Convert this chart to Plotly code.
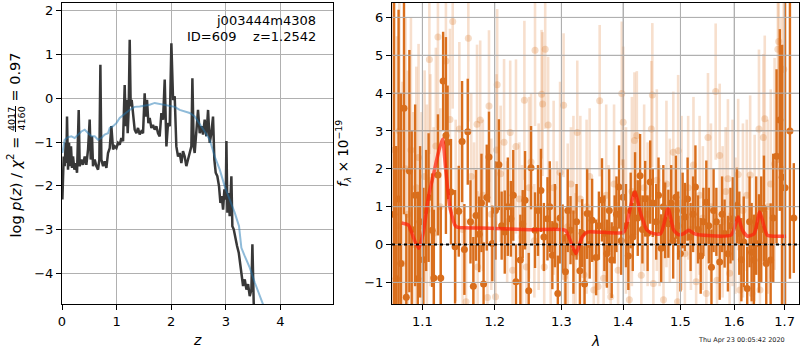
import plotly.graph_objects as go

# ---------------- left panel data: log p(z) ----------------
z_pz = [0.007, 0.019, 0.031, 0.049, 0.068, 0.080, 0.092, 0.110, 0.129, 0.147, 0.165, 0.184, 0.202, 0.227,
        0.251, 0.275, 0.306, 0.324, 0.355, 0.385, 0.416, 0.446, 0.477, 0.507, 0.526, 0.550, 0.568, 0.599,
        0.629, 0.660, 0.684, 0.703, 0.721, 0.752, 0.782, 0.813, 0.843, 0.874, 0.904, 0.935, 0.965, 0.996,
        1.026, 1.057, 1.087, 1.118, 1.136, 1.148, 1.167, 1.185, 1.203, 1.221, 1.240, 1.258, 1.276, 1.301,
        1.331, 1.362, 1.392, 1.423, 1.453, 1.484, 1.514, 1.533, 1.557, 1.582, 1.606, 1.637, 1.667, 1.698,
        1.728, 1.759, 1.789, 1.820, 1.851, 1.881, 1.912, 1.942, 1.973, 2.003, 2.034, 2.064, 2.094, 2.125,
        2.155, 2.186, 2.216, 2.247, 2.277, 2.308, 2.339, 2.369, 2.388, 2.412, 2.430, 2.461, 2.491, 2.522,
        2.553, 2.583, 2.613, 2.644, 2.675, 2.705, 2.735, 2.766, 2.790, 2.815, 2.845, 2.876, 2.901, 2.925,
        2.950, 2.974, 2.999, 3.011, 3.029, 3.053, 3.071, 3.102, 3.120, 3.145, 3.175, 3.206, 3.237, 3.267,
        3.292, 3.316, 3.347, 3.377, 3.408, 3.438, 3.469, 3.487, 3.511, 3.536, 3.600]
logp = [-2.31, -1.70, -1.33, -1.55, -1.02, -1.48, -0.42, -1.63, -1.02, -1.55, -1.10, -1.59, -1.33, -1.63,
        -1.48, -1.70, -0.27, -1.55, -1.40, -1.52, -1.33, -1.52, -1.17, -0.49, -1.40, -0.87, -1.55, -1.40,
        -1.55, -1.63, -1.40, 0.76, -1.40, -1.55, -1.44, -1.59, -1.25, -1.14, -0.64, -1.17, -1.10, -1.14,
        -1.02, -1.06, -0.91, -0.98, -0.42, 0.30, -0.64, -0.04, -0.80, -0.27, 1.33, -0.19, -0.04, -0.42,
        -0.72, -0.80, -0.68, -0.83, -0.76, -0.80, 0.11, -0.42, -0.04, -0.57, -0.45, -0.68, -0.61, -0.72,
        -0.64, -0.80, -0.87, -0.34, -0.49, 0.42, -1.10, -0.57, -0.64, 1.25, -0.04, 0.04, -1.10, -1.33,
        -1.25, -1.48, -1.21, -1.33, -1.55, -1.40, -1.25, -1.10, 0.45, -1.10, -1.25, -0.80, -0.27, -0.80,
        -0.64, -0.83, -0.49, -0.87, -0.27, -1.02, -0.80, -0.42, -1.40, -1.70, -1.78, -2.01, -2.39, -2.23,
        -2.54, -2.08, -2.31, -0.98, -2.61, -2.16, -2.69, -1.78, -2.92, -2.99, -3.22, -3.37, -3.52, -3.83,
        -4.05, -4.28, -4.13, -4.36, -4.24, -4.51, -4.36, -3.33, -4.67, -4.97, -5.50]

z_prior = [0.007, 0.049, 0.110, 0.172, 0.233, 0.294, 0.355, 0.416, 0.477, 0.538, 0.599, 0.660, 0.721,
           0.782, 0.843, 0.874, 0.935, 0.996, 1.057, 1.118, 1.179, 1.240, 1.331, 1.423, 1.514, 1.606,
           1.698, 1.789, 1.881, 1.973, 2.064, 2.155, 2.247, 2.339, 2.430, 2.522, 2.613, 2.705, 2.797,
           2.889, 2.980, 3.071, 3.163, 3.242, 3.285, 3.347, 3.438, 3.530, 3.621, 3.682, 3.800]
logp_prior = [-1.25, -0.95, -0.89, -0.87, -0.91, -0.83, -0.76, -0.72, -0.80, -0.87, -0.87, -0.95, -0.91,
              -0.83, -0.80, -0.68, -0.64, -0.57, -0.45, -0.38, -0.33, -0.27, -0.20, -0.19, -0.17, -0.15,
              -0.11, -0.13, -0.15, -0.17, -0.20, -0.27, -0.30, -0.34, -0.42, -0.58, -0.76, -0.95, -1.33,
              -1.63, -2.01, -2.31, -2.61, -2.92, -3.41, -3.60, -3.86, -4.20, -4.51, -4.70, -5.20]

# ---------------- right panel data: spectrum ----------------
dark_lam = [1.063, 1.066, 1.069, 1.072, 1.076, 1.079, 1.083, 1.086, 1.0905, 1.094, 1.097, 1.1014, 1.105,
            1.1083, 1.113, 1.1153, 1.1208, 1.1246, 1.1278, 1.1316, 1.1339, 1.1385, 1.1441, 1.1492, 1.1538,
            1.157, 1.1617, 1.1655, 1.1695, 1.1733, 1.1778, 1.181, 1.184, 1.1885, 1.1917, 1.1965, 1.201,
            1.206, 1.210, 1.2145, 1.219, 1.2235, 1.227, 1.231, 1.2375, 1.241, 1.2445, 1.25, 1.2535, 1.2595,
            1.264, 1.2685, 1.273, 1.2785, 1.282, 1.286, 1.290, 1.2945, 1.298, 1.302, 1.3064, 1.310, 1.3144,
            1.319, 1.324, 1.3293, 1.333, 1.3368, 1.341, 1.345, 1.349, 1.3555, 1.360, 1.3651, 1.369, 1.3731,
            1.377, 1.3811, 1.386, 1.389, 1.3933, 1.397, 1.400, 1.405, 1.409, 1.413, 1.4165, 1.4204, 1.425,
            1.429, 1.433, 1.4378, 1.442, 1.4465, 1.451, 1.457, 1.461, 1.4657, 1.4695, 1.4727, 1.4784, 1.4835,
            1.487, 1.4918, 1.496, 1.500, 1.504, 1.5081, 1.513, 1.5184, 1.523, 1.5273, 1.532, 1.537, 1.542,
            1.5474, 1.552, 1.557, 1.561, 1.5662, 1.5725, 1.577, 1.5818, 1.5881, 1.593, 1.5975, 1.6054,
            1.610, 1.614, 1.6186, 1.6254, 1.630, 1.634, 1.6385, 1.643, 1.6485, 1.653, 1.6584, 1.663, 1.6718,
            1.677, 1.6837, 1.6903, 1.6951, 1.701, 1.711, 1.719]
dark_flux = [0.8, -0.9, 1.2, -0.5, 3.6, -1.39, 1.94, 0.4, 1.3, -0.9, 0.6, -0.4, 0.9,
             1.24, 0.38, -0.88, 1.84, -0.88, 4.32, 2.88, 2.7, 1.39, -0.06, 0.88, 2.72,
             -0.13, 2.98, 0.6, -1.1, 0.77, 0.27, 1.1, -1.04, 1.24, 2.31, 0.03, 0.9,
             2.11, 0.5, 0.33, 1.0, 0.68, 1.3, -0.98, -0.41, 0.54, 1.17, -1.22, 2.03, 0.38,
             0.9, 1.43, 0.2, 0.68, 1.0, -0.28, 0.5, -1.29, 0.7, 0.16, -0.72, 0.9, 0.38,
             -0.2, 0.6, -0.69, 0.3, -1.04, 0.82, 0.0, 0.64, -0.34, 0.5, 1.18, 0.3, -0.24,
             0.9, -0.41, 0.4, 0.8, 1.52, 0.1, 1.25, 0.5, -0.3, 0.9, 0.2, 1.34, 0.7,
             1.82, 0.4, 1.21, 0.3, 1.65, 1.1, 0.6, 1.3, -0.1, 1.0, 0.64, 0.55, 1.1,
             0.1, 1.25, 0.5, -0.24, 0.9, 0.73, 1.2, 0.2, 0.8, 1.52, 0.4, -0.3, 0.6,
             1.12, 0.5, -0.6, 0.9, 0.6, -0.46, 0.8, 0.29, -0.24, 0.5, 0.68, 1.03,
             0.3, -0.4, 0.07, -1.16, 0.6, -0.2, -0.41, 0.5, 0.03, 0.4, 0.95, -0.5, -0.41,
             0.7, 2.33, 3.29, 1.78, 1.5, 3.0, 0.7]
dark_err = [8.0, 3.5, 5.0, 4.5, 2.8, 2.2, 3.2, 2.6, 2.4, 2.3, 2.0, 1.9, 1.6,
            1.7, 1.5, 1.8, 1.6, 1.9, 1.3, 2.6, 1.5, 1.4, 1.5, 1.2, 1.6,
            1.2, 1.4, 1.1, 1.3, 1.2, 1.0, 1.3, 1.1, 1.4, 1.2, 1.0, 1.3,
            1.2, 0.9, 1.1, 1.3, 1.0, 1.2, 1.0, 1.2, 0.9, 1.3, 1.0, 1.1, 1.0,
            1.2, 1.1, 0.9, 1.1, 1.2, 0.9, 1.1, 1.0, 1.2, 0.9, 1.0, 1.1, 0.9,
            1.1, 1.0, 1.1, 0.9, 1.0, 1.2, 0.9, 1.1, 1.0, 0.9, 1.1, 1.0, 0.9,
            1.1, 1.0, 0.9, 1.0, 1.1, 0.9, 1.0, 1.1, 0.9, 1.0, 0.9, 1.1, 1.0,
            1.1, 0.9, 1.0, 1.0, 1.1, 0.9, 1.0, 1.0, 0.9, 1.1, 1.0, 0.9, 1.0,
            1.0, 1.1, 0.9, 1.0, 1.0, 0.9, 1.1, 0.9, 1.0, 1.1, 0.9, 1.0, 0.9,
            1.1, 1.0, 1.0, 1.1, 0.9, 1.0, 1.0, 0.9, 1.0, 1.0, 1.1, 1.0,
            1.1, 1.1, 1.2, 1.1, 1.2, 1.3, 1.2, 1.3, 1.3, 1.4, 1.4, 1.4, 1.5,
            1.7, 2.3, 2.4, 3.5, 6.0, 3.9, 1.45]

light_lam = [1.064, 1.067, 1.070, 1.074, 1.078, 1.081, 1.085, 1.088, 1.092, 1.095, 1.099, 1.103, 1.106,
             1.1093, 1.1107, 1.115, 1.118, 1.1208, 1.124, 1.1316, 1.1371, 1.1409, 1.145, 1.150, 1.1545,
             1.1593, 1.1625, 1.1665, 1.1705, 1.1747, 1.1756, 1.1792, 1.183, 1.1895, 1.1917, 1.195, 1.2011,
             1.2025, 1.2035, 1.2085, 1.2135, 1.218, 1.2225, 1.226, 1.231, 1.236, 1.240, 1.2435, 1.2465,
             1.2505, 1.2535, 1.2585, 1.2595, 1.265, 1.2695, 1.271, 1.2735, 1.275, 1.2795, 1.2835, 1.288,
             1.293, 1.298, 1.3035, 1.305, 1.310, 1.315, 1.319, 1.3224, 1.3251, 1.330, 1.3357, 1.340, 1.345,
             1.3517, 1.3587, 1.3613, 1.3677, 1.372, 1.376, 1.3795, 1.385, 1.3917, 1.3979, 1.4003, 1.405,
             1.4107, 1.415, 1.4194, 1.4234, 1.4311, 1.436, 1.442, 1.4485, 1.4502, 1.452, 1.458, 1.463,
             1.4698, 1.475, 1.481, 1.4872, 1.4948, 1.4959, 1.502, 1.5081, 1.514, 1.519, 1.5237, 1.5286,
             1.535, 1.541, 1.5474, 1.5505, 1.556, 1.5649, 1.5674, 1.5725, 1.578, 1.5838, 1.5881, 1.5913,
             1.597, 1.6025, 1.6078, 1.6112, 1.617, 1.6245, 1.6311, 1.6345, 1.640, 1.6485, 1.6505, 1.6572,
             1.660, 1.666, 1.672, 1.6797, 1.6863, 1.688, 1.6935, 1.6983]
light_flux = [2.5, 0.5, 3.0, -0.5, 2.0, 0.8, 2.5, 0.0, 1.5, 2.3, 0.5, 1.8, 0.9,
              4.89, 1.7, 0.3, 2.6, 5.48, 1.0, 4.85, 3.3, 5.89, 0.9, 3.05, 0.4,
              -1.51, 5.45, 1.8, 0.5, 3.18, -0.59, 3.29, 1.3, -1.4, 3.66, 0.8, -1.38,
              2.5, 4.22, 1.87, 2.7, 0.6, 2.96, -0.68, 2.59, 1.2, 0.2, 3.81, -0.59,
              1.5, 2.18, 0.1, 5.13, 1.0, 3.97, 3.71, -0.59, 5.16, 3.16, 0.0, 1.5,
              0.6, 1.9, 3.68, -0.85, 0.47, 1.6, 0.9, -0.24, 2.96, 1.2, -0.8, 1.0, 1.8,
              -1.2, -1.11, 3.8, -0.89, 1.3, 0.4, -1.38, 1.6, -0.68, 3.99, 3.23, 0.9,
              -1.46, 1.4, 2.75, 2.88, -0.81, 1.5, 0.8, 3.05, 3.95, -1.03, 1.7, 0.5,
              -1.46, 1.6, 0.9, 2.44, -1.51, 2.48, 1.1, -0.24, 1.5, 0.4, 2.1, -0.98,
              1.3, 0.7, -1.29, 2.83, 1.0, 4.04, -0.94, 2.35, 0.6, 1.4, 1.74, -0.76,
              1.1, 0.5, 1.85, -1.2, 0.9, 1.3, 1.84, -1.29, 0.7, 3.05, -1.2, 2.83,
              3.32, 1.0, 1.6, 2.13, 5.16, 5.36, 2.0, 4.63]
light_err = [5.5, 5.0, 4.5, 4.8, 4.0, 3.8, 3.5, 3.5, 3.2, 3.0, 3.0, 2.8, 2.8,
             2.5, 2.8, 2.8, 2.6, 2.4, 2.6, 2.5, 2.4, 2.3, 2.4, 2.3, 2.3,
             2.2, 2.2, 2.2, 2.2, 2.1, 2.0, 2.1, 2.0, 2.0, 2.0, 2.0, 2.0,
             2.0, 2.0, 1.8, 2.2, 1.6, 1.9, 1.7, 2.3, 1.5, 1.9, 2.1, 1.6,
             2.4, 1.8, 1.5, 2.0, 2.2, 1.7, 1.9, 1.6, 2.1, 1.8, 2.0, 2.3,
             1.6, 2.4, 1.9, 1.7, 2.2, 1.5, 2.5, 1.6, 1.9, 2.2, 1.7, 2.3, 1.8,
             1.6, 1.8, 2.0, 1.5, 2.4, 1.7, 1.6, 2.1, 1.8, 1.9, 2.0, 2.2,
             1.6, 2.5, 1.8, 1.7, 1.6, 2.2, 1.9, 1.8, 1.9, 1.7, 2.4, 1.6,
             1.7, 2.2, 1.9, 1.6, 1.6, 2.0, 2.3, 1.7, 1.9, 1.6, 1.8, 1.7,
             2.1, 1.9, 1.8, 1.7, 2.2, 1.8, 1.7, 1.9, 2.0, 1.7, 2.1, 1.6,
             2.2, 1.8, 2.0, 1.7, 2.3, 2.0, 2.1, 1.9, 2.2, 2.1, 1.9, 2.2,
             2.2, 2.3, 2.5, 2.8, 3.0, 3.2, 4.0, 4.5]

model_lam = [1.073, 1.082, 1.088, 1.095, 1.101, 1.108, 1.115, 1.121, 1.127, 1.131, 1.137, 1.144, 1.147,
             1.193, 1.252, 1.306, 1.314, 1.323, 1.333, 1.341, 1.401, 1.410, 1.420, 1.430, 1.441, 1.453,
             1.465, 1.478, 1.488, 1.497, 1.506, 1.515, 1.525, 1.537, 1.594, 1.603, 1.608, 1.616, 1.626,
             1.639, 1.650, 1.659, 1.665, 1.679, 1.703]
model_flux = [0.57, 0.51, 0.20, -0.10, 0.29, 1.25, 1.87, 2.40, 2.79, 2.04, 0.99, 0.51, 0.46,
              0.43, 0.39, 0.38, 0.11, -0.24, 0.20, 0.33, 0.33, 0.82, 1.39, 0.82, 0.38, 0.29,
              0.29, 0.95, 0.38, 0.26, 0.29, 0.38, 0.29, 0.25, 0.25, 0.55, 0.73, 0.38, 0.22,
              0.29, 0.86, 0.46, 0.25, 0.22, 0.22]

zticks = [0, 1, 2, 3, 4]
pzticks = [-4, -3, -2, -1, 0, 1, 2]
lam_ticks = [1.1, 1.2, 1.3, 1.4, 1.5, 1.6, 1.7]
flux_ticks = [-1, 0, 1, 2, 3, 4, 5, 6]

FONT = "DejaVu Sans"
W, H = 800, 350
def px(x):
    return x / W
def py(y):
    return 1 - y / H

ORANGE = "rgb(217,110,28)"
ORANGE_L = "rgba(217,110,28,0.22)"
ORANGE_LM = "rgba(217,110,28,0.25)"
GRID = "#b0b0b0"

fig = go.Figure()

# left panel
fig.add_trace(go.Scatter(x=z_pz, y=logp, mode="lines", line=dict(color="#383838", width=2.5),
                         xaxis="x", yaxis="y", hoverinfo="skip"))
fig.add_trace(go.Scatter(x=z_prior, y=logp_prior, mode="lines",
                         line=dict(color="rgba(31,119,180,0.5)", width=2),
                         xaxis="x", yaxis="y", hoverinfo="skip"))

# right panel
fig.add_trace(go.Scatter(x=light_lam, y=light_flux, mode="markers",
                         marker=dict(size=7, color=ORANGE_LM, line=dict(width=0)),
                         error_y=dict(type="data", array=light_err, color=ORANGE_L, thickness=2.6, width=0),
                         xaxis="x2", yaxis="y2", hoverinfo="skip"))
fig.add_trace(go.Scatter(x=dark_lam, y=dark_flux, mode="markers",
                         marker=dict(size=7, color=ORANGE, line=dict(width=0)),
                         error_y=dict(type="data", array=dark_err, color=ORANGE, thickness=2.4, width=0),
                         xaxis="x2", yaxis="y2", hoverinfo="skip"))
fig.add_trace(go.Scatter(x=model_lam, y=model_flux, mode="lines",
                         line=dict(color="rgba(255,30,10,0.7)", width=3.5, shape="spline", smoothing=0.6),
                         xaxis="x2", yaxis="y2", hoverinfo="skip"))

axis_common = dict(showline=True, mirror=True, linecolor="black", linewidth=1,
                   ticks="outside", ticklen=5, tickwidth=1, tickcolor="black",
                   showgrid=True, gridcolor=GRID, gridwidth=1, zeroline=False, automargin=False,
                   tickfont=dict(family=FONT, size=13, color="black"))

dom_y = [py(304), py(3)]
fig.update_layout(
    width=W, height=H, autosize=False,
    margin=dict(l=0, r=0, t=0, b=0, pad=0, autoexpand=False),
    paper_bgcolor="white", plot_bgcolor="white",
    showlegend=False,
    font=dict(family=FONT, size=13, color="black"),
    xaxis=dict(domain=[px(62), px(333)], range=[0, 4.963], tickvals=zticks, anchor="y", **axis_common),
    yaxis=dict(domain=dom_y, range=[-4.69, 2.166], tickvals=pzticks, anchor="x", **axis_common),
    xaxis2=dict(domain=[px(392), px(799)], type="log", range=[0.02555, 0.23798],
                tickvals=lam_ticks, ticktext=[f"{v:.1f}" for v in lam_ticks], anchor="y2", **axis_common),
    yaxis2=dict(domain=dom_y, range=[-1.57, 6.38], tickvals=flux_ticks, anchor="x2", **axis_common),
)

# spectrum-panel grid drawn over the error bars (as in the original)
for v in lam_ticks:
    fig.add_shape(type="line", xref="x2", yref="y2 domain", x0=v, x1=v, y0=0, y1=1,
                  line=dict(color=GRID, width=1), layer="above")
for v in flux_ticks:
    fig.add_shape(type="line", xref="x2 domain", yref="y2", x0=0, x1=1, y0=v, y1=v,
                  line=dict(color=GRID, width=1), layer="above")

# zero line in the spectrum panel
fig.add_shape(type="line", xref="x2 domain", yref="y2", x0=0, x1=1, y0=0, y1=0,
              line=dict(color="black", width=2, dash="3px,3px"), layer="above")

ann = []
# redshift labels
ann.append(dict(text="j003444m4308", x=px(318), y=py(20.5), xref="paper", yref="paper",
                xanchor="right", yanchor="middle", showarrow=False, font=dict(size=13)))
ann.append(dict(text="ID=609    z=1.2542", x=px(318), y=py(36.5), xref="paper", yref="paper",
                xanchor="right", yanchor="middle", showarrow=False, font=dict(size=13)))
# axis titles
ann.append(dict(text="<i>z</i>", x=px(197), y=py(340), xref="paper", yref="paper",
                xanchor="center", yanchor="middle", showarrow=False, font=dict(size=14)))
ann.append(dict(text="<i>λ</i>", x=px(595), y=py(341), xref="paper", yref="paper",
                xanchor="center", yanchor="middle", showarrow=False, font=dict(size=14)))
ann.append(dict(text="<i>f</i><sub><i>λ</i></sub> × 10<sup>−19</sup>", x=px(343), y=py(154),
                xref="paper", yref="paper", xanchor="center", yanchor="middle", textangle=-90,
                showarrow=False, font=dict(size=13.5)))
# left y title, built from pieces (fraction)
ann.append(dict(text="log <i>p</i>(<i>z</i>) / <i>χ</i><sup>2</sup> =", x=px(14), y=py(135),
                xref="paper", yref="paper", xanchor="center", yanchor="top", textangle=-90,
                showarrow=False, font=dict(size=14.5)))
ann.append(dict(text="4017", x=px(11), y=py(119), xref="paper", yref="paper",
                xanchor="center", yanchor="middle", textangle=-90, showarrow=False, font=dict(size=9.5)))
ann.append(dict(text="4160", x=px(20.5), y=py(119), xref="paper", yref="paper",
                xanchor="center", yanchor="middle", textangle=-90, showarrow=False, font=dict(size=9.5)))
ann.append(dict(text="= 0.97", x=px(14), y=py(104), xref="paper", yref="paper",
                xanchor="center", yanchor="bottom", textangle=-90, showarrow=False, font=dict(size=14.5)))
fig.add_shape(type="line", xref="paper", yref="paper", x0=px(15.5), x1=px(15.5), y0=py(106), y1=py(132),
              line=dict(color="black", width=1))
# timestamp
ann.append(dict(text="Thu Apr 23 00:05:42 2020", x=px(787), y=py(339.5), xref="paper", yref="paper",
                xanchor="right", yanchor="middle", showarrow=False, font=dict(size=6.5, color="#222222")))
fig.update_layout(annotations=ann)

fig.write_html("out.html", config={"displayModeBar": False},
               post_script="document.body.style.margin='0';document.body.style.overflow='hidden';")
